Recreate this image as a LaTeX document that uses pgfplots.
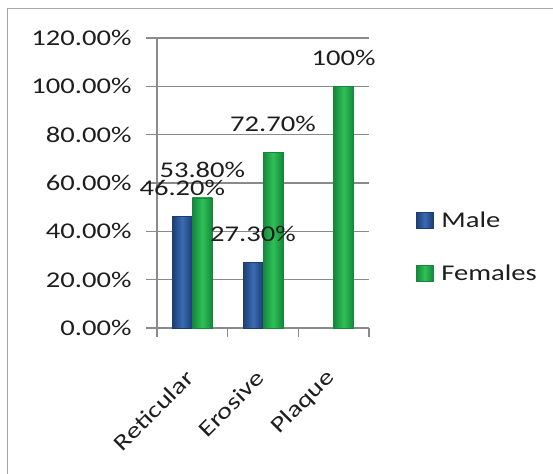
\documentclass[border=0pt]{standalone}
\usepackage{pgfplots}
\pgfplotsset{compat=1.18}
\usepackage{fontspec}
\setmainfont[FakeStretch=1.27]{Carlito}

\definecolor{maleDark}{HTML}{1C3D70}
\definecolor{maleMid}{HTML}{3A6CB4}
\definecolor{femDark}{HTML}{15873A}
\definecolor{femMid}{HTML}{2FC057}
\definecolor{gridGray}{HTML}{8A8A8A}
\definecolor{txt}{HTML}{1E1E1E}

\pgfplotsset{
    square legend/.style={
        legend image code/.code={\draw[##1] (0bp,-8bp) rectangle (17bp,8bp);}},
    male/.style={draw=maleDark, line width=0.6bp, left color=maleDark,
        right color=maleDark, middle color=maleMid, bar shift=-10bp, square legend},
    female/.style={draw=femDark, line width=0.6bp, left color=femDark,
        right color=femDark, middle color=femMid, bar shift=10bp, square legend},
}

\begin{document}
\begin{tikzpicture}[x=1bp,y=1bp,font=\fontsize{22.5bp}{27bp}\selectfont]
\useasboundingbox (0,0) rectangle (553,-474);
% frame of the picture (right and bottom edges fall outside)
\draw[gray!70, line width=1bp] (7,-490) -- (7,-9) -- (570,-9);
\begin{axis}[
    at={(157bp,-328bp)}, anchor=south west,
    scale only axis, width=212bp, height=290bp,
    xmin=-0.5, xmax=2.5, ymin=0, ymax=120,
    ybar, bar width=20bp,
    ytick={0,20,...,120},
    /pgf/number format/assume math mode=true,
    yticklabel={\pgfmathprintnumber[fixed,fixed zerofill,precision=2]{\tick}\%},
    xtick={0,1,2},
    xticklabels={Reticular,Erosive,Plaque},
    minor xtick={-0.5,0.5,1.5,2.5},
    axis lines*=left,
    axis line style={gridGray, line width=1.2bp},
    ymajorgrids,
    grid style={gridGray, line width=1.2bp},
    tick align=outside,
    major tick length=11bp,
    minor tick length=9bp,
    major x tick style={draw=none},
    minor x tick style={gridGray, line width=1.2bp},
    ytick style={gridGray, line width=1.2bp},
    yticklabel style={text=txt, anchor=east},
    yticklabel shift=11bp,
    xticklabel style={text=txt, rotate=45, anchor=east},
    xticklabel shift=33bp,
    nodes near coords,
    point meta=explicit symbolic,
    nodes near coords style={anchor=south, inner sep=0pt, yshift=20bp, text=txt},
    legend style={at={(1.22,0.28)}, anchor=west, draw=none, fill=none,
        row sep=32bp, column sep=6bp, inner sep=0pt, text=txt},
    legend cell align=left,
]
% one bar per plot, so that each bar gets its own shading
\addplot[male] coordinates {(0,46.2) [46.20\%]};
\addlegendentry{Male}
\addplot[female] coordinates {(0,53.8) [53.80\%]};
\addlegendentry{Females}
\addplot[male, forget plot] coordinates {(1,27.3) [27.30\%]};
\addplot[female, forget plot] coordinates {(1,72.7) [72.70\%]};
\addplot[female, forget plot] coordinates {(2,100) [100\%]};
\end{axis}
\end{tikzpicture}
\end{document}
